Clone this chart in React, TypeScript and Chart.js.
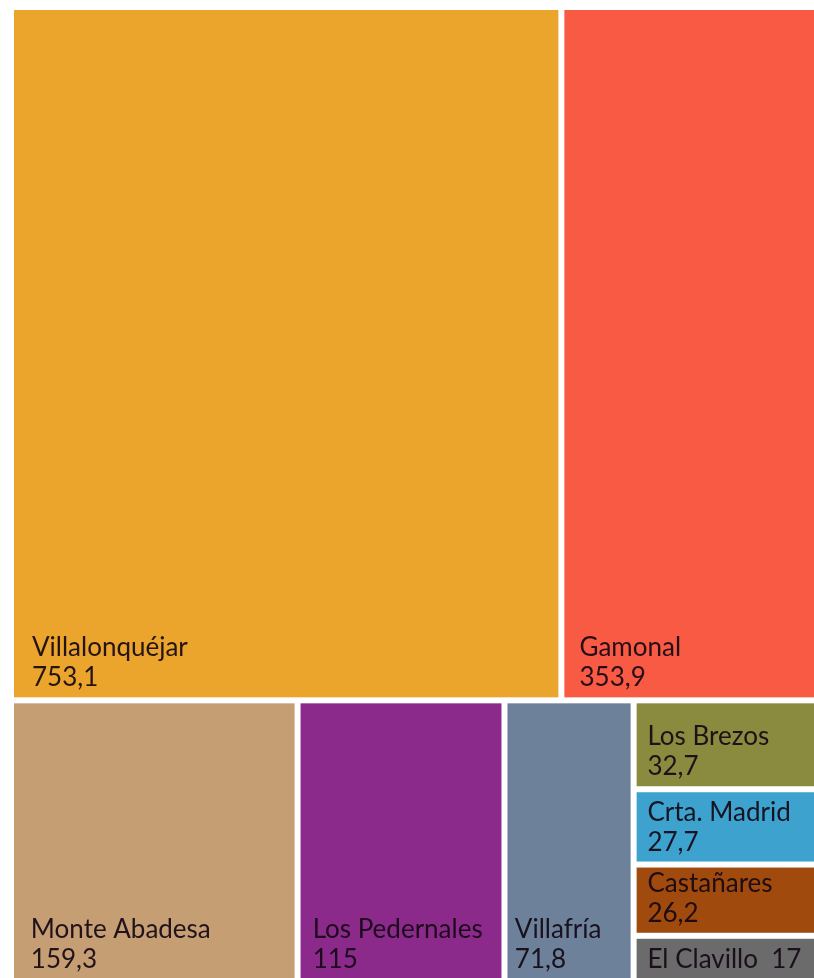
import React, { useEffect, useRef } from "react";
import { Chart, registerables } from "chart.js";

Chart.register(...registerables);

const categories = [
  "Villalonquéjar",
  "Gamonal",
  "Monte Abadesa",
  "Los Pedernales",
  "Villafría",
  "Los Brezos",
  "Crta. Madrid",
  "Castañares",
  "El Clavillo",
];
const values = [753.1, 353.9, 159.3, 115, 71.8, 32.7, 27.7, 26.2, 17];
const colors = [
  "#EBA42C",
  "#F85A44",
  "#C59E74",
  "#8B2A8A",
  "#6D819B",
  "#8A8B3F",
  "#3DA3CE",
  "#A04A0E",
  "#6B6B6B",
];
// Treemap structure: rows (stacked top to bottom); a nested array is a vertical column inside a row.
const layoutRows: (number | number[])[][] = [
  [0, 1],
  [2, 3, 4, [5, 6, 7, 8]],
];

const total = values.reduce((a, b) => a + b, 0);
const fmt = (v: number) => String(v).replace(".", ",");
const sumOf = (item: number | number[]) =>
  Array.isArray(item) ? item.reduce((a, i) => a + values[i], 0) : values[item];

const GAP = 3;
const FONT = "26px Lato, 'Open Sans', sans-serif";
const TEXT_COLOR = "rgba(20,8,20,0.92)";

const treemapPlugin = {
  id: "treemapCells",
  afterDatasetsDraw(chart: any) {
    const { ctx } = chart;
    const xs = chart.scales.x;
    const ys = chart.scales.y;
    const drawCell = (idx: number, x0: number, x1: number, y0: number, y1: number) => {
      const l = xs.getPixelForValue(x0) + GAP;
      const r = xs.getPixelForValue(x1) - GAP;
      const t = ys.getPixelForValue(y0) + GAP;
      const b = ys.getPixelForValue(y1) - GAP;
      ctx.save();
      ctx.fillStyle = colors[idx];
      ctx.fillRect(l, t, r - l, b - t);
      ctx.fillStyle = TEXT_COLOR;
      ctx.font = FONT;
      ctx.textAlign = "left";
      ctx.textBaseline = "alphabetic";
      const padX = Math.min(18, (r - l) * 0.06);
      const base = b - 11;
      if (b - t < 60) {
        ctx.fillText(categories[idx] + "  " + fmt(values[idx]), l + padX, base);
      } else {
        ctx.fillText(categories[idx], l + padX, base - 30);
        ctx.fillText(fmt(values[idx]), l + padX, base);
      }
      ctx.restore();
    };
    let yCursor = 0;
    for (const row of layoutRows) {
      const rowSum = row.reduce((a: number, it) => a + sumOf(it), 0);
      let xCursor = 0;
      for (const item of row) {
        const itemSum = sumOf(item);
        const w = itemSum / rowSum;
        const cells = Array.isArray(item) ? item : [item];
        let yy = yCursor;
        for (const idx of cells) {
          const h = (rowSum * values[idx]) / itemSum;
          drawCell(idx, xCursor, xCursor + w, yy, yy + h);
          yy += h;
        }
        xCursor += w;
      }
      yCursor += rowSum;
    }
  },
};

export default function App() {
  const ref = useRef<HTMLCanvasElement | null>(null);
  useEffect(() => {
    if (!ref.current) return;
    const chart = new Chart(ref.current, {
      type: "scatter",
      data: { datasets: [{ data: [] }] },
      options: {
        animation: false,
        responsive: false,
        layout: { padding: { left: 11, top: 7, right: 10, bottom: 8 } },
        plugins: { legend: { display: false }, tooltip: { enabled: false } },
        scales: {
          x: { type: "linear", min: 0, max: 1, display: false },
          y: { type: "linear", min: 0, max: total, reverse: true, display: false },
        },
      },
      plugins: [treemapPlugin],
    });
    return () => chart.destroy();
  }, []);
  return (
    <div
      style={{
        position: "fixed",
        left: 0,
        top: 0,
        width: 814,
        height: 978,
        overflow: "hidden",
        background: "#fff",
      }}
    >
      <canvas ref={ref} width={830} height={990} style={{ display: "block" }} />
    </div>
  );
}
